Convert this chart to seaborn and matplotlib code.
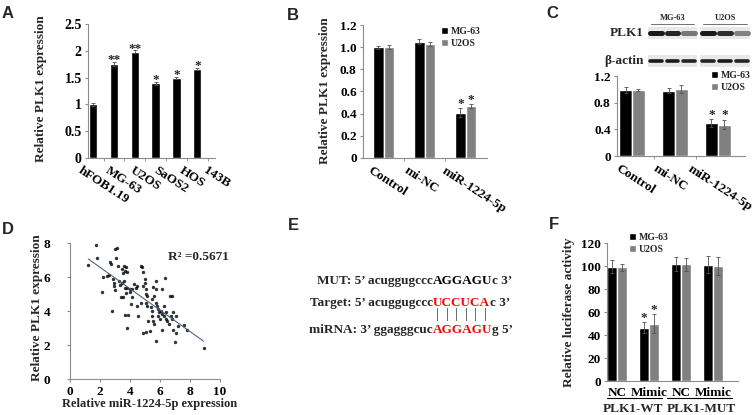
import numpy as np
import pandas as pd
import matplotlib
matplotlib.use("Agg")
import matplotlib.pyplot as plt
import matplotlib.transforms as mtransforms
from matplotlib.patches import Rectangle
import seaborn as sns

# ---- data ----
# A: PLK1 in cell lines
a_cells = ["hFOB1.19", "MG-63", "U2OS", "SaOS2", "HOS", "143B"]
a_vals = [1.00, 1.75, 1.98, 1.39, 1.50, 1.66]
a_err = [0.03, 0.04, 0.03, 0.03, 0.02, 0.02]
a_stars = ["", "**", "**", "*", "*", "*"]

# B/C: transfection groups
groups = ["Control", "mi-NC", "miR-1224-5p"]
lines = ["MG-63", "U2OS"]
b_mg63 = [1.00, 1.05, 0.41]
b_u2os = [1.00, 1.03, 0.47]
b_mg63_err = [0.015, 0.02, 0.04]
b_u2os_err = [0.02, 0.02, 0.02]
b_stars = ["", "", "*"]

c_mg63 = [0.99, 0.98, 0.49]
c_u2os = [0.99, 1.01, 0.47]
c_mg63_err = [0.04, 0.04, 0.06]
c_u2os_err = [0.02, 0.06, 0.07]
c_stars = ["", "", "*"]

# western blot band intensities (lanes: Control, mi-NC, miR-1224-5p)
blot_plk1_mg63 = [1.0, 0.95, 0.55]
blot_plk1_u2os = [1.0, 0.9, 0.5]
blot_actin_mg63 = [1.0, 1.0, 0.95]
blot_actin_u2os = [0.95, 1.0, 0.95]

# D: correlation scatter
d_mir = [1.22, 1.71, 1.78, 2.16, 2.20, 2.49, 2.60, 2.67, 2.71, 2.87, 2.93, 2.93,
         2.98, 2.82, 3.00, 3.16, 3.04, 3.22, 3.27, 3.33, 3.44, 3.49, 3.56, 3.60,
         3.67, 3.53, 3.38, 3.71, 3.67, 3.82, 3.62, 3.71, 3.82, 3.67, 3.89, 3.82,
         3.98, 4.00, 4.11, 4.04, 4.16, 4.27, 4.38, 4.44, 4.71, 4.82, 4.89, 5.00,
         5.00, 5.04, 5.04, 4.87, 5.16, 4.56, 4.49, 4.71, 5.04, 5.16, 5.38, 5.44,
         5.49, 5.53, 5.22, 4.89, 5.04, 5.31, 5.60, 5.49, 5.60, 5.71, 5.71, 5.53,
         5.71, 5.82, 5.89, 5.93, 5.89, 5.98, 6.04, 6.16, 6.27, 6.38, 6.33, 6.11,
         6.27, 6.38, 6.16, 5.70, 6.49, 6.60, 6.71, 6.78, 6.64, 6.87, 6.82, 7.04,
         6.85, 7.00, 7.20, 7.60, 7.80, 8.90, 7.05]
d_plk1 = [6.68, 7.90, 7.09, 5.13, 6.00, 6.06, 6.10, 6.87, 6.74, 5.90, 5.67, 5.48,
          5.22, 4.00, 7.65, 7.71, 7.13, 6.64, 5.77, 5.55, 5.67, 6.45, 6.25, 5.77,
          5.38, 4.80, 4.85, 6.58, 6.35, 6.29, 6.62, 5.05, 5.38, 3.77, 3.77, 3.01,
          5.28, 5.09, 4.83, 4.41, 5.28, 5.57, 5.38, 5.48, 6.64, 6.58, 5.48, 5.67,
          5.90, 5.32, 4.99, 6.29, 4.89, 3.73, 4.31, 4.50, 4.50, 4.31, 4.21, 4.02,
          3.73, 3.44, 3.44, 2.70, 2.76, 2.85, 3.24, 4.70, 4.89, 5.28, 5.77, 5.42,
          4.50, 4.31, 4.12, 3.92, 3.73, 3.53, 4.02, 3.83, 3.69, 3.96, 5.96, 5.28,
          4.31, 3.53, 2.91, 2.21, 3.44, 3.24, 3.73, 4.89, 4.89, 3.96, 3.53, 3.73,
          2.90, 2.20, 3.10, 3.20, 2.90, 1.85, 2.70]
d_r2 = "R² =0.5671"

# F: luciferase
f_groups = ["WT-NC", "WT-Mimic", "MUT-NC", "MUT-Mimic"]
f_ticks = ["NC", "Mimic", "NC", "Mimic"]
f_mg63 = [99.5, 46.5, 102.0, 101.0]
f_u2os = [99.0, 50.0, 101.5, 100.0]
f_mg63_err = [5.5, 5.0, 6.0, 7.5]
f_u2os_err = [3.0, 8.5, 5.5, 7.5]
f_stars = ["", "*", "", ""]

# ---- style ----
sns.set_style("ticks")
plt.rcParams["font.family"] = ["Liberation Serif", "DejaVu Serif"]
plt.rcParams["font.weight"] = "bold"
plt.rcParams["axes.labelweight"] = "bold"
plt.rcParams["axes.edgecolor"] = "#8c8c8c"
plt.rcParams["axes.linewidth"] = 0.8
plt.rcParams["xtick.color"] = "#8c8c8c"
plt.rcParams["ytick.color"] = "#8c8c8c"
plt.rcParams["xtick.labelcolor"] = "black"
plt.rcParams["ytick.labelcolor"] = "black"

W, H = 753, 415
fig = plt.figure(figsize=(W / 100, H / 100), dpi=100)
fig.patch.set_facecolor("white")

# overlay in pixel coords for free text
ov = fig.add_axes([0, 0, 1, 1], zorder=10)
ov.set_xlim(0, W)
ov.set_ylim(H, 0)
ov.axis("off")


def px_axes(l, t, r, b):
    return fig.add_axes([l / W, 1 - b / H, (r - l) / W, (b - t) / H])


def shift_labels(ax, dxs, dy_px=0):
    for lbl, dx in zip(ax.get_xticklabels(), dxs):
        off = mtransforms.ScaledTranslation(dx / 100, dy_px / 100, fig.dpi_scale_trans)
        lbl.set_transform(lbl.get_transform() + off)


def add_err(ax, containers, errs, stars=None, gap=0.0):
    for cont, err in zip(containers, errs):
        for j, (bar, e) in enumerate(zip(cont, err)):
            cx = bar.get_x() + bar.get_width() / 2
            h = bar.get_height()
            ax.errorbar(cx, h, yerr=e, color="#505050", capsize=1.6,
                        elinewidth=0.6, capthick=0.6)
            if stars is not None and stars[j]:
                ax.text(cx, h + e + gap, stars[j], ha="center", va="center",
                        fontsize=9.5)


def small_legend(ax, handles, x, y):
    ax.legend(handles, lines, loc="upper left", bbox_to_anchor=(x, y),
              bbox_transform=ov.transData, frameon=False, fontsize=7,
              handlelength=0.7, handleheight=0.7, handletextpad=0.3,
              labelspacing=0.3, borderpad=0, borderaxespad=0)


pal = {"MG-63": "black", "U2OS": "#808080"}
letter_font = dict(family=["Liberation Sans", "DejaVu Sans"], fontsize=12,
                   fontweight="bold")

# ---- A ----
axA = px_axes(88, 24, 215, 158)
sns.barplot(x=a_cells, y=a_vals, color="black", width=0.4, errorbar=None,
            saturation=1, ax=axA)
for bar, e, s in zip(axA.patches, a_err, a_stars):
    cx = bar.get_x() + bar.get_width() / 2
    h = bar.get_height()
    axA.errorbar(cx, h, yerr=e, color="#505050", capsize=1.6, elinewidth=0.6,
                 capthick=0.6)
    if s:
        axA.text(cx, h + e + 0.03, s, ha="center", va="center", fontsize=9.5)
axA.set_xlim(-0.25, 5.85)
axA.set_ylim(0, 2.5)
axA.set_yticks([0, 0.5, 1, 1.5, 2, 2.5])
axA.set_yticklabels(["0", "0.5", "1", "1.5", "2", "2.5"], fontsize=10)
axA.set_xticks(range(6))
axA.set_xticklabels(a_cells, rotation=-33, ha="left", va="top",
                    rotation_mode="anchor", fontsize=9.5)
axA.set_xticks(np.arange(0.5, 6, 1), minor=True)
axA.tick_params(axis="x", which="major", length=0, pad=5)
axA.tick_params(axis="x", which="minor", length=2.5)
axA.tick_params(axis="y", length=2.5, pad=2)
shift_labels(axA, [-11, -4, 0, 3, 7, 11])
axA.set_ylabel("Relative PLK1 expression", fontsize=9.5)
axA.yaxis.set_label_coords(47, 89, transform=ov.transData)
sns.despine(ax=axA)

# ---- B ----
dfB = pd.DataFrame({"group": groups * 2, "line": ["MG-63"] * 3 + ["U2OS"] * 3,
                    "value": b_mg63 + b_u2os})
axB = px_axes(363, 25, 487, 158)
sns.barplot(data=dfB, x="group", y="value", hue="line", palette=pal,
            width=0.52, errorbar=None, saturation=1, legend=False, ax=axB)
barsB = list(axB.containers[:2])
add_err(axB, barsB, [b_mg63_err, b_u2os_err], stars=b_stars, gap=0.035)
axB.set_xlim(-0.5, 2.52)
axB.set_ylim(0, 1.2)
axB.set_yticks(np.arange(0, 1.21, 0.2))
axB.set_yticklabels(["0", "0.2", "0.4", "0.6", "0.8", "1.0", "1.2"], fontsize=9.5)
axB.set_xticks(range(3))
axB.set_xticklabels(groups, rotation=-33, ha="left", va="top",
                    rotation_mode="anchor", fontsize=9.5)
axB.set_xticks([0.5, 1.5], minor=True)
axB.tick_params(axis="x", which="major", length=0, pad=5)
axB.tick_params(axis="x", which="minor", length=2.5)
axB.tick_params(axis="y", length=2.5, pad=2)
shift_labels(axB, [-11, -16, -20])
axB.set_xlabel("")
axB.set_ylabel("Relative PLK1 expression", fontsize=9.5)
axB.yaxis.set_label_coords(331, 91, transform=ov.transData)
small_legend(axB, barsB, 441, 27)
sns.despine(ax=axB)

# ---- C ----
dfC = pd.DataFrame({"group": groups * 2, "line": ["MG-63"] * 3 + ["U2OS"] * 3,
                    "value": c_mg63 + c_u2os})
axC = px_axes(617, 76, 745, 156)
sns.barplot(data=dfC, x="group", y="value", hue="line", palette=pal,
            width=0.6, errorbar=None, saturation=1, legend=False, ax=axC)
barsC = list(axC.containers[:2])
add_err(axC, barsC, [c_mg63_err, c_u2os_err], stars=c_stars, gap=0.07)
axC.set_xlim(-0.35, 2.63)
axC.set_ylim(0, 1.2)
axC.set_yticks([0, 0.4, 0.8, 1.2])
axC.set_yticklabels(["0", "0.4", "0.8", "1.2"], fontsize=9.5)
axC.set_xticks(range(3))
axC.set_xticklabels(groups, rotation=-33, ha="left", va="top",
                    rotation_mode="anchor", fontsize=9.5)
axC.set_xticks([0.5, 1.5], minor=True)
axC.tick_params(axis="x", which="major", length=0, pad=5)
axC.tick_params(axis="x", which="minor", length=2.5)
axC.tick_params(axis="y", length=2.5, pad=2)
shift_labels(axC, [-12, -17, -26])
axC.set_xlabel("")
axC.set_ylabel("")
small_legend(axC, barsC, 711, 71)
sns.despine(ax=axC)

# blot
strips = [(648, 697, blot_plk1_mg63, blot_actin_mg63, "MG-63"),
          (700, 750, blot_plk1_u2os, blot_actin_u2os, "U2OS")]
for x0, x1, plk, act, name in strips:
    for (yt, yb), vals, lw in [((27, 39), plk, 3.6), ((55, 67), act, 2.6)]:
        ov.add_patch(Rectangle((x0, yt), x1 - x0, yb - yt, color="#e8e8e8", lw=0))
        lane = (x1 - x0) / 3
        for i, v in enumerate(vals):
            cx = x0 + (i + 0.5) * lane
            ov.plot([cx - lane * 0.36, cx + lane * 0.36], [(yt + yb) / 2] * 2,
                    color="#1a1a1a", alpha=v, lw=lw, solid_capstyle="round")
    ov.plot([x0 + 3, x1 - 3], [24, 24], color="#707070", lw=0.7)
    ov.text((x0 + x1) / 2, 18, name, ha="center", va="center", fontsize=6)
ov.text(644, 33, "PLK1", ha="right", va="center", fontsize=9.5)
ov.text(644, 61, "β-actin", ha="right", va="center", fontsize=9.5)

# ---- D ----
axD = px_axes(70, 243, 220, 379)
sns.regplot(x=d_mir, y=d_plk1, ci=None, truncate=True, ax=axD,
            scatter_kws=dict(s=6, color="black", linewidths=0),
            line_kws=dict(color="#4a6785", lw=0.8))
axD.set_xlim(0, 10)
axD.set_ylim(0, 8)
axD.set_xticks([0, 2, 4, 6, 8, 10])
axD.set_yticks([0, 2, 4, 6, 8])
axD.tick_params(axis="y", length=2, pad=12, labelsize=9.5)
axD.tick_params(axis="x", length=2, pad=3, labelsize=9.5)
axD.set_xlabel("Relative miR-1224-5p expression", fontsize=9)
axD.xaxis.set_label_coords(150, 398, transform=ov.transData)
axD.set_ylabel("Relative PLK1 expression", fontsize=9.5)
axD.yaxis.set_label_coords(43, 308, transform=ov.transData)
axD.text(0.65, 0.9, d_r2, transform=axD.transAxes, ha="left", va="center",
         fontsize=9.5)
sns.despine(ax=axD)

# ---- E ----
e_rows = [(281, "MUT: 5’ acuggugccc", "AGGAGU", "c 3’", "black"),
          (303, "Target: 5’ acuggugccc", "UCCUCA", "c 3’", "red"),
          (330, "miRNA: 3’ ggagggcuc", "AGGAGU", "g 5’", "red")]
red_target = None
for y, pre, mid, post, col in e_rows:
    m = ov.text(433, y, mid, ha="left", va="center", fontsize=9.5, color=col)
    ov.annotate(pre, xy=(0, 0.5), xycoords=m, ha="right", va="center",
                fontsize=9.5)
    ov.annotate(post, xy=(1, 0.5), xycoords=m, ha="left", va="center",
                fontsize=9.5)
    if pre.startswith("Target"):
        red_target = m
for i in range(6):
    ov.annotate("|", xy=((i + 0.5) / 6, 0.1), xycoords=red_target, ha="center",
                va="top", fontsize=10, fontweight="normal", color="#404040")

# ---- F ----
dfF = pd.DataFrame({"group": f_groups * 2, "line": ["MG-63"] * 4 + ["U2OS"] * 4,
                    "value": f_mg63 + f_u2os})
axF = px_axes(607, 243, 738, 381)
sns.barplot(data=dfF, x="group", y="value", hue="line", palette=pal,
            width=0.62, errorbar=None, saturation=1, legend=False, ax=axF)
barsF = list(axF.containers[:2])
add_err(axF, barsF, [f_mg63_err, f_u2os_err], stars=f_stars, gap=3.5)
axF.set_xlim(-0.31, 3.78)
axF.set_ylim(0, 120)
axF.set_yticks(range(0, 121, 20))
axF.tick_params(axis="y", length=2.5, pad=2, labelsize=9.5)
axF.set_xticks(range(4))
axF.set_xticklabels(f_ticks, fontsize=9.5)
axF.tick_params(axis="x", length=0, pad=4)
axF.set_xlabel("")
axF.set_ylabel("Relative luciferase activity", fontsize=9.5)
axF.yaxis.set_label_coords(575, 312, transform=ov.transData)
small_legend(axF, barsF, 629, 233)
sns.despine(ax=axF)
bt = mtransforms.blended_transform_factory(axF.transData, ov.transData)
for xa, xb, name, xc in [(-0.3, 1.4, "PLK1-WT", 0.5), (1.55, 3.6, "PLK1-MUT", 2.65)]:
    axF.plot([xa, xb], [398, 398], color="black", lw=0.8, transform=bt,
             clip_on=False)
    axF.text(xc, 409, name, transform=bt, ha="center", va="center", fontsize=9.5)

# panel letters
for x, y, s in [(8, 14, "A"), (293, 16, "B"), (552, 14, "C"),
                (8, 229, "D"), (293, 225, "E"), (554, 224, "F")]:
    ov.text(x, y, s, ha="center", va="center", **letter_font)

fig.savefig("out.png", dpi=100, facecolor="white")
